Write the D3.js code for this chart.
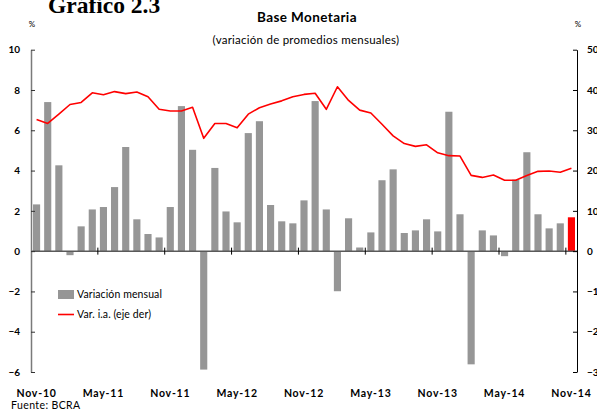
<!DOCTYPE html>
<html>
<head>
<meta charset="utf-8">
<script src="https://cdn.jsdelivr.net/npm/d3@7"></script>
<style>
  body { margin: 0; background: #fff; }
  svg { display: block; font-family: Lato, "Open Sans", sans-serif; }
</style>
</head>
<body>
<div id="chart"></div>
<script>
// months from Nov-10 to Nov-14
const months = [
  "Nov-10","Dic-10","Ene-11","Feb-11","Mar-11","Abr-11","May-11","Jun-11","Jul-11","Ago-11","Sep-11","Oct-11",
  "Nov-11","Dic-11","Ene-12","Feb-12","Mar-12","Abr-12","May-12","Jun-12","Jul-12","Ago-12","Sep-12","Oct-12",
  "Nov-12","Dic-12","Ene-13","Feb-13","Mar-13","Abr-13","May-13","Jun-13","Jul-13","Ago-13","Sep-13","Oct-13",
  "Nov-13","Dic-13","Ene-14","Feb-14","Mar-14","Abr-14","May-14","Jun-14","Jul-14","Ago-14","Sep-14","Oct-14",
  "Nov-14"
]
const tickMonths = ["Nov-10","May-11","Nov-11","May-12","Nov-12","May-13","Nov-13","May-14","Nov-14"]

// variacion mensual (%), eje izq
const mensual = [
  2.32, 7.40, 4.26, -0.20, 1.23, 2.07, 2.19, 3.18, 5.17, 1.58, 0.85, 0.68,
  2.19, 7.20, 5.03, -5.88, 4.13, 1.97, 1.43, 5.86, 6.45, 2.29, 1.48, 1.38,
  2.52, 7.45, 2.07, -1.99, 1.63, 0.18, 0.93, 3.52, 4.06, 0.90, 1.03, 1.58,
  0.98, 6.92, 1.83, -5.62, 1.03, 0.78, -0.25, 3.55, 4.91, 1.83, 1.13, 1.38,
  1.68
]
// var. i.a. (%), eje der
const interanual = [
  32.7, 31.7, 34.0, 36.4, 36.9, 39.3, 38.8, 39.6, 39.1, 39.5, 38.3, 35.2,
  34.8, 34.8, 35.7, 28.0, 31.7, 31.7, 30.6, 34.0, 35.6, 36.5, 37.3, 38.3,
  38.9, 39.2, 35.2, 40.8, 37.4, 35.0, 34.3, 31.5, 28.6, 26.7, 26.0, 26.4,
  24.4, 23.7, 23.6, 18.8, 18.3, 18.9, 17.6, 17.6, 18.8, 19.8, 19.9, 19.6,
  20.6
]
const leftTicks = [-6, -4, -2, 0, 2, 4, 6, 8, 10]
const rightTicks = [-30, -20, -10, 0, 10, 20, 30, 40, 50]

const width = 597, height = 411
const plot = {left: 31, right: 577, top: 49.7, bottom: 372}

const svg = d3.select("#chart").append("svg")
    .attr("width", width)
    .attr("height", height)

const x = d3.scaleBand()
    .domain(months)
    .range([plot.left, plot.right])
    .paddingInner(0.36)
    .paddingOuter(0.18)

const yL = d3.scaleLinear().domain([-6, 10]).range([plot.bottom, plot.top])
const yR = d3.scaleLinear().domain([-30, 50]).range([plot.bottom, plot.top])

const cx = m => x(m) + x.bandwidth() / 2

// title
svg.append("text")
    .attr("x", 48).attr("y", 13)
    .style("font-family", "'Liberation Serif', 'Times New Roman', serif")
    .style("font-weight", "bold")
    .style("font-size", "23.5px")
    .text("Gráfico 2.3")

svg.append("text")
    .attr("x", 307).attr("y", 22)
    .attr("text-anchor", "middle")
    .style("font-weight", "bold")
    .style("font-size", "13.5px")
    .style("letter-spacing", "0.4px")
    .text("Base Monetaria")

svg.append("text")
    .attr("x", 306).attr("y", 44)
    .attr("text-anchor", "middle")
    .style("font-size", "11.5px")
    .style("letter-spacing", "0.25px")
    .text("(variación de promedios mensuales)")

svg.append("text").attr("x", 32).attr("y", 27).attr("text-anchor", "middle")
    .style("font-size", "8px").text("%")
svg.append("text").attr("x", 578).attr("y", 27).attr("text-anchor", "middle")
    .style("font-size", "8px").text("%")

// bars
svg.append("g").selectAll("rect")
  .data(months.map((m, i) => ({m, v: mensual[i], last: i === months.length - 1})))
  .join("rect")
    .attr("x", d => x(d.m))
    .attr("width", x.bandwidth())
    .attr("y", d => yL(Math.max(0, d.v)))
    .attr("height", d => Math.abs(yL(d.v) - yL(0)))
    .attr("fill", d => d.last ? "#ff0000" : "#969696")

// zero line
svg.append("line")
    .attr("x1", plot.left).attr("x2", plot.right)
    .attr("y1", yL(0)).attr("y2", yL(0))
    .attr("stroke", "#5a5a5a")
    .attr("stroke-width", 1.5)

// x ticks at category boundaries
svg.append("g").selectAll("line")
  .data(tickMonths.slice(1))
  .join("line")
    .attr("x1", d => cx(d) - x.step() / 2)
    .attr("x2", d => cx(d) - x.step() / 2)
    .attr("y1", yL(0) - 3.5)
    .attr("y2", yL(0) + 3.5)
    .attr("stroke", "#000")
    .attr("stroke-width", 1)

// line
const line = d3.line()
    .x((d, i) => cx(months[i]))
    .y(d => yR(d))

svg.append("path")
    .datum(interanual)
    .attr("fill", "none")
    .attr("stroke", "#ff0000")
    .attr("stroke-width", 1.6)
    .attr("stroke-linejoin", "round")
    .attr("d", line)

// axes
const leftAxis = svg.append("g")
    .attr("transform", `translate(${plot.left},0)`)
    .call(d3.axisLeft(yL).tickValues(leftTicks).tickSize(-4).tickSizeOuter(0).tickPadding(11))
leftAxis.select(".domain").attr("stroke", "#7a7a7a").attr("stroke-width", 1.5)
leftAxis.selectAll(".tick line").attr("stroke", "#333")
leftAxis.selectAll("text")
    .style("font-size", "10px")
    .style("font-weight", "bold")
    .style("font-family", "Lato, sans-serif")
    .attr("fill", "#000")

const rightAxis = svg.append("g")
    .attr("transform", `translate(${plot.right},0)`)
    .call(d3.axisRight(yR).tickValues(rightTicks).tickSize(-4).tickSizeOuter(0).tickPadding(10))
rightAxis.select(".domain").attr("stroke", "#000")
rightAxis.selectAll("text")
    .style("font-size", "10px")
    .style("font-weight", "bold")
    .style("font-family", "Lato, sans-serif")
    .attr("fill", "#000")

// x labels
svg.append("g").selectAll("text")
  .data(tickMonths)
  .join("text")
    .attr("x", d => cx(d))
    .attr("y", 397)
    .attr("text-anchor", "middle")
    .style("font-size", "10.5px")
    .style("font-weight", "bold")
    .style("letter-spacing", "0.8px")
    .text(d => d)

// legend
const legend = svg.append("g")
legend.append("rect")
    .attr("x", 58).attr("y", 290).attr("width", 16).attr("height", 9)
    .attr("fill", "#969696")
legend.append("text")
    .attr("x", 77).attr("y", 298)
    .style("font-size", "10.5px")
    .style("letter-spacing", "0.1px")
    .text("Variación mensual")
legend.append("line")
    .attr("x1", 58).attr("x2", 74).attr("y1", 314.5).attr("y2", 314.5)
    .attr("stroke", "#ff0000").attr("stroke-width", 1.6)
legend.append("text")
    .attr("x", 77).attr("y", 318)
    .style("font-size", "10.5px")
    .style("letter-spacing", "0.1px")
    .text("Var. i.a. (eje der)")

svg.append("text")
    .attr("x", 11).attr("y", 409)
    .style("font-size", "10.5px")
    .style("letter-spacing", "0.4px")
    .text("Fuente: BCRA")
</script>
</body>
</html>
